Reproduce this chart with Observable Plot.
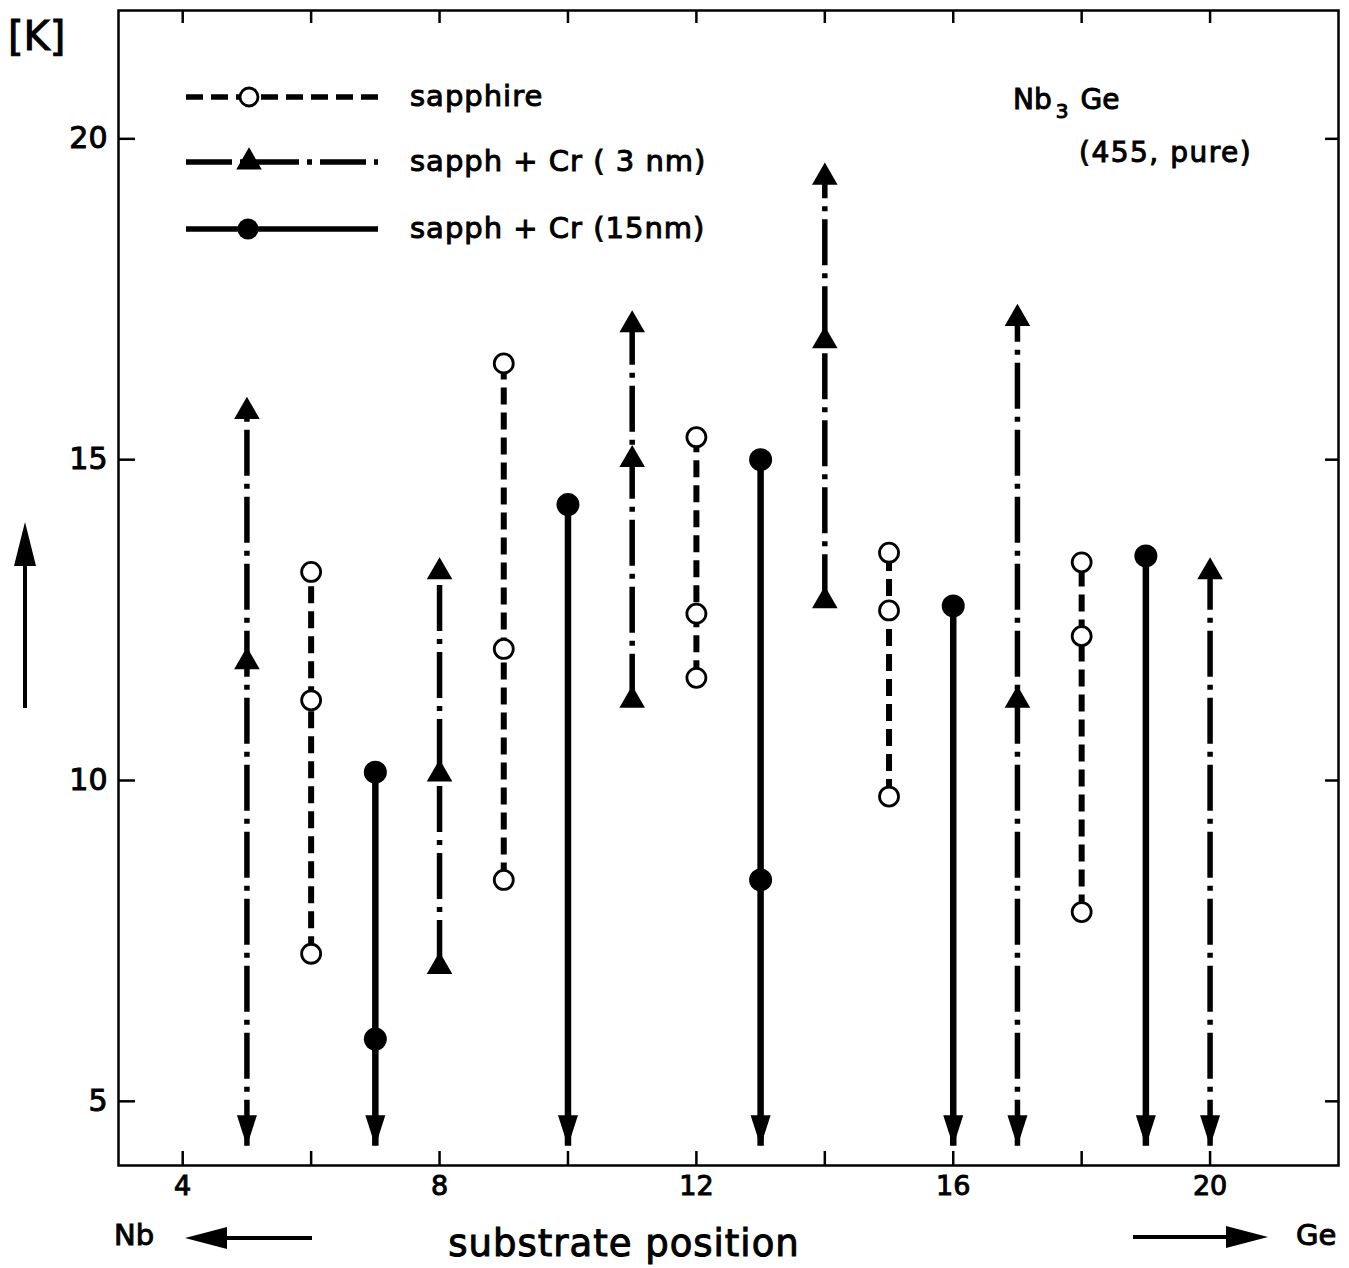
<!DOCTYPE html>
<html>
<head>
<meta charset="utf-8">
<script src="https://cdn.jsdelivr.net/npm/d3@7"></script>
<script src="https://cdn.jsdelivr.net/npm/@observablehq/plot@0.6"></script>
<style>
html, body { margin: 0; padding: 0; background: #fff; }
#chart svg text { stroke: #000; stroke-width: 1px; }
</style>
</head>
<body>
<div id="chart"></div>
<script>
// ---------------- data ----------------
const xTicks = [4, 6, 8, 10, 12, 14, 16, 18, 20];
const xTickLabels = [4, 8, 12, 16, 20];
const yTicks = [5, 10, 15, 20];

const seriesNames = ["sapphire", "sapph + Cr ( 3 nm)", "sapph + Cr (15nm)"];

// sapphire substrate (open circles, dashed)
const sapphirePos = [6, 9, 12, 15, 18];
const sapphireTc = [[7.3, 11.25, 13.25], [8.45, 12.05, 16.5], [11.6, 12.6, 15.35], [9.75, 12.65, 13.55], [7.95, 12.25, 13.4]];

// sapphire + Cr 3 nm (triangles, dash-dot)
const cr3Pos = [5, 8, 11, 14, 17, 20];
const cr3Tc = [[11.85, 15.75], [7.1, 10.1, 13.25], [11.25, 15.0, 17.1], [12.8, 16.85, 19.4], [11.25, 17.2], [13.25]];

// sapphire + Cr 15 nm (filled circles, solid)
const cr15Pos = [7, 10, 13, 16, 19];
const cr15Tc = [[5.97, 10.13], [14.3], [8.45, 15.0], [12.72], [13.5]];

// positions whose transition continues below the lowest measured temperature (down arrows)
const belowPos = [5, 7, 10, 13, 16, 17, 19, 20];
const lowerLimit = 4.3;

// ---------------- derived tables ----------------
function points(pos, tc) {
  return pos.flatMap((p, i) => tc[i].map(v => ({x: p, y: v})));
}
function ranges(pos, tc) {
  return pos.map((p, i) => ({
    x: p,
    y1: belowPos.includes(p) ? lowerLimit : d3.min(tc[i]),
    y2: d3.max(tc[i])
  }));
}
const sapphPts = points(sapphirePos, sapphireTc);
const cr3Pts = points(cr3Pos, cr3Tc);
const cr15Pts = points(cr15Pos, cr15Tc);
const sapphRng = ranges(sapphirePos, sapphireTc);
const cr3Rng = ranges(cr3Pos, cr3Tc);
const cr15Rng = ranges(cr15Pos, cr15Tc);
const belowData = belowPos.map(p => ({x: p, y: lowerLimit}));

const dashSapph = "17,8";
const dashDot = "46,8,5,8";

const arrowDown = {
  draw(ctx) {
    ctx.moveTo(0, 0);
    ctx.lineTo(-10, -31);
    ctx.lineTo(10, -31);
    ctx.closePath();
  }
};

const font = "DejaVu Sans";

const plot = Plot.plot({
  width: 1349,
  height: 1268,
  marginLeft: 118,
  marginRight: 11,
  marginTop: 10,
  marginBottom: 103,
  style: {fontFamily: font, background: "#fff", color: "#000"},
  x: {domain: [3, 22]},
  y: {domain: [4, 22]},
  marks: [
    // axes: labels
    Plot.axisX({ticks: xTickLabels, tickSize: 0, tickPadding: 10, fontSize: 27, label: null}),
    Plot.axisY({ticks: yTicks, tickSize: 0, tickPadding: 11, fontSize: 30, label: null}),
    // axes: inward ticks
    Plot.axisX({anchor: "bottom", ticks: xTicks, tickSize: -14, fill: "none", strokeWidth: 2.5}),
    Plot.axisX({anchor: "top", ticks: xTicks, tickSize: -12, fill: "none", strokeWidth: 2.5}),
    Plot.axisY({anchor: "left", ticks: yTicks, tickSize: -17, fill: "none", strokeWidth: 2.5}),
    Plot.axisY({anchor: "right", ticks: yTicks, tickSize: -14, fill: "none", strokeWidth: 2.5}),
    Plot.frame({stroke: "#000", strokeWidth: 2.5}),
    // vertical transition ranges
    Plot.ruleX(sapphRng, {x: "x", y1: "y1", y2: "y2", stroke: "#000", strokeWidth: 6, strokeDasharray: dashSapph, insetBottom: 6}),
    Plot.ruleX(cr3Rng, {x: "x", y1: "y1", y2: "y2", stroke: "#000", strokeWidth: 5.5, strokeDasharray: dashDot, insetBottom: 8}),
    Plot.ruleX(cr15Rng, {x: "x", y1: "y1", y2: "y2", stroke: "#000", strokeWidth: 6.5, insetBottom: 8}),
    // down arrows
    Plot.dot(belowData, {x: "x", y: "y", symbol: arrowDown, r: 10, fill: "#000", stroke: "none"}),
    // markers
    Plot.dot(sapphPts, {x: "x", y: "y", r: 9.5, fill: "#fff", stroke: "#000", strokeWidth: 2.8}),
    Plot.dot(cr3Pts, {x: "x", y: "y", symbol: "triangle", r: 9.5, fill: "#000", stroke: "none"}),
    Plot.dot(cr15Pts, {x: "x", y: "y", r: 11.5, fill: "#000", stroke: "none"})
  ]
});

document.getElementById("chart").appendChild(plot);

// ---------------- annotations & legend ----------------
const svg = d3.select(plot);
const ann = svg.append("g").attr("font-family", font).attr("fill", "#000").attr("text-anchor", "start");

// legend
const legendRows = [
  {label: seriesNames[0], y: 97, dash: dashSapph, w: 5.5, marker: "open"},
  {label: seriesNames[1], y: 162, dash: dashDot, w: 5.5, marker: "tri"},
  {label: seriesNames[2], y: 229, dash: null, w: 5.5, marker: "filled"}
];
legendRows.forEach(r => {
  ann.append("line").attr("x1", 186).attr("x2", 378).attr("y1", r.y).attr("y2", r.y)
    .attr("stroke", "#000").attr("stroke-width", r.w).attr("stroke-dasharray", r.dash);
  if (r.marker === "open") {
    ann.append("circle").attr("cx", 249).attr("cy", r.y).attr("r", 9).attr("fill", "#fff").attr("stroke", "#000").attr("stroke-width", 2.8);
  } else if (r.marker === "filled") {
    ann.append("circle").attr("cx", 248).attr("cy", r.y).attr("r", 10.5).attr("fill", "#000");
  } else {
    ann.append("path").attr("d", d3.symbol(d3.symbolTriangle, 90 * Math.PI)()).attr("transform", `translate(249,${r.y})`).attr("fill", "#000");
  }
  ann.append("text").attr("x", 410).attr("y", r.y).attr("dy", "0.32em").attr("font-size", 29).attr("letter-spacing", 1).text(r.label);
});

// Nb3Ge label
const t1 = ann.append("text").attr("x", 1013).attr("y", 109).attr("font-size", 28);
t1.append("tspan").text("Nb");
t1.append("tspan").attr("dy", 9).attr("dx", 4).attr("font-size", 20).text("3");
t1.append("tspan").attr("dy", -9).attr("dx", 12).text("Ge");
ann.append("text").attr("x", 1079).attr("y", 162).attr("font-size", 28).attr("letter-spacing", 1.5).text("(455, pure)");

// y unit
ann.append("text").attr("x", 8).attr("y", 50).attr("font-size", 40).text("[K]");

// y direction arrow
ann.append("line").attr("x1", 25).attr("x2", 25).attr("y1", 708).attr("y2", 550).attr("stroke", "#000").attr("stroke-width", 4);
ann.append("path").attr("d", "M25,522 L14,566 L36,566 Z").attr("fill", "#000");

// x axis title and direction arrows
ann.append("text").attr("x", 624).attr("y", 1256).attr("text-anchor", "middle").attr("font-size", 37).attr("letter-spacing", 1).text("substrate position");
ann.append("text").attr("x", 114).attr("y", 1245).attr("font-size", 29).text("Nb");
ann.append("line").attr("x1", 215).attr("x2", 312).attr("y1", 1238).attr("y2", 1238).attr("stroke", "#000").attr("stroke-width", 4);
ann.append("path").attr("d", "M185,1238 L227,1227 L227,1249 Z").attr("fill", "#000");
ann.append("text").attr("x", 1296).attr("y", 1245).attr("font-size", 29).text("Ge");
ann.append("line").attr("x1", 1133).attr("x2", 1240).attr("y1", 1237).attr("y2", 1237).attr("stroke", "#000").attr("stroke-width", 4);
ann.append("path").attr("d", "M1268,1237 L1226,1226 L1226,1248 Z").attr("fill", "#000");
</script>
</body>
</html>
